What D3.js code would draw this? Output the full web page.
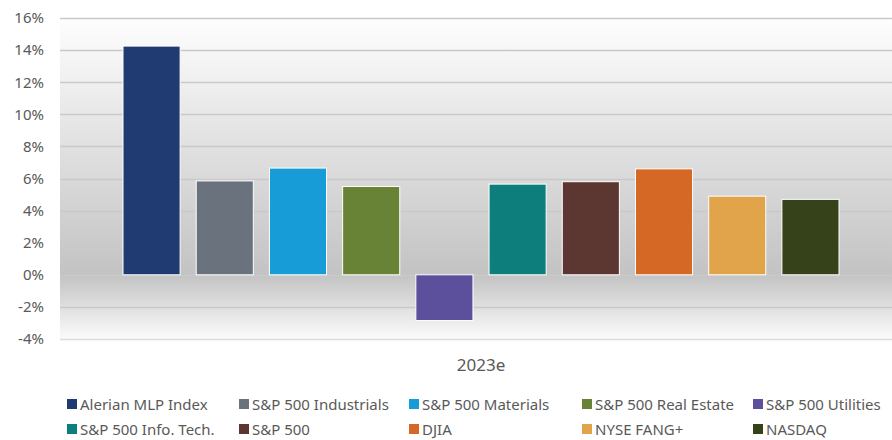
<!DOCTYPE html>
<html>
<head>
<meta charset="utf-8">
<script src="https://cdn.jsdelivr.net/npm/d3@7"></script>
<style>
  body { margin: 0; background: #fff; }
  svg { display: block; font-family: "Noto Sans", sans-serif; }
</style>
</head>
<body>
<div id="graphics"></div>
<script>
// chart data
const categories = ["2023e"];
const seriesNames = ["Alerian MLP Index", "S&P 500 Industrials", "S&P 500 Materials", "S&P 500 Real Estate",
  "S&P 500 Utilities", "S&P 500 Info. Tech.", "S&P 500", "DJIA", "NYSE FANG+", "NASDAQ"];
const seriesValues = [14.25, 5.85, 6.65, 5.5, -2.85, 5.65, 5.8, 6.6, 4.9, 4.7];
const seriesColors = ["#203a72", "#6a737d", "#179cd8", "#688236", "#5c4f9c",
  "#0e7e7d", "#5c3630", "#d66826", "#e2a44b", "#36421a"];
const yTicks = [-4, -2, 0, 2, 4, 6, 8, 10, 12, 14, 16];

const width = 892, height = 440;
const plot = { left: 60, right: 902, top: 18, bottom: 339 };

const svg = d3.select("#graphics")
  .append("svg")
  .attr("width", width)
  .attr("height", height);

const y = d3.scaleLinear().domain([-4, 16]).range([plot.bottom, plot.top]);

const x0 = d3.scaleBand().domain(categories)
  .range([plot.left, plot.right])
  .paddingInner(0).paddingOuter(0.088);

const x1 = d3.scaleBand().domain(seriesNames)
  .range([0, x0.bandwidth()])
  .paddingInner(0.22).paddingOuter(0);

// background gradient of plot area
const defs = svg.append("defs");
const grad = defs.append("linearGradient")
  .attr("id", "bg").attr("x1", 0).attr("y1", 0).attr("x2", 0).attr("y2", 1);
grad.append("stop").attr("offset", "0%").attr("stop-color", "#fefefe");
grad.append("stop").attr("offset", "80%").attr("stop-color", "#c3c3c3");
grad.append("stop").attr("offset", "100%").attr("stop-color", "#fbfbfb");

svg.append("rect")
  .attr("x", plot.left).attr("y", plot.top)
  .attr("width", plot.right - plot.left)
  .attr("height", plot.bottom - plot.top)
  .attr("fill", "url(#bg)");

// gridlines
svg.append("g")
  .selectAll("line")
  .data(yTicks)
  .enter()
  .append("line")
  .attr("x1", plot.left).attr("x2", plot.right)
  .attr("y1", d => Math.round(y(d)) + 0.5)
  .attr("y2", d => Math.round(y(d)) + 0.5)
  .attr("stroke", d => d === -4 ? "#dcdcdc" : "#c9c9c9")
  .attr("stroke-width", 1.3);

// y axis labels
const yAxis = d3.axisLeft(y).tickValues(yTicks).tickFormat(d => d + "%").tickSize(0).tickPadding(0);
const yg = svg.append("g").attr("transform", "translate(44,0)").call(yAxis);
yg.select(".domain").remove();
yg.selectAll("text")
  .attr("fill", "#595959")
  .style("font-size", "15px")
  .style("font-family", "'Noto Sans', sans-serif");

// bars
svg.append("g")
  .selectAll("rect")
  .data(seriesNames.map((n, i) => ({ name: n, value: seriesValues[i], color: seriesColors[i] })))
  .enter()
  .append("rect")
  .attr("x", d => x0(categories[0]) + x1(d.name))
  .attr("y", d => y(Math.max(0, d.value)))
  .attr("width", x1.bandwidth())
  .attr("height", d => Math.abs(y(d.value) - y(0)))
  .attr("fill", d => d.color)
  .attr("stroke", "#ffffff")
  .attr("stroke-width", 1);

// category label
svg.append("text")
  .attr("x", x0(categories[0]) + x0.bandwidth() / 2)
  .attr("y", 371)
  .attr("text-anchor", "middle")
  .attr("fill", "#595959")
  .style("font-size", "17px")
  .text(categories[0]);

// legend
const legendX = [67, 239, 409, 582, 753];
const legendY = [404, 429];
const legend = svg.append("g")
  .selectAll("g")
  .data(seriesNames)
  .enter()
  .append("g")
  .attr("transform", (d, i) => "translate(" + legendX[i % 5] + "," + legendY[Math.floor(i / 5)] + ")");

legend.append("rect")
  .attr("x", 0).attr("y", -5)
  .attr("width", 10).attr("height", 10)
  .attr("fill", (d, i) => seriesColors[i]);

legend.append("text")
  .attr("x", 13).attr("y", 5.5)
  .attr("fill", "#595959")
  .style("font-size", "15px")
  .text(d => d);
</script>
</body>
</html>
